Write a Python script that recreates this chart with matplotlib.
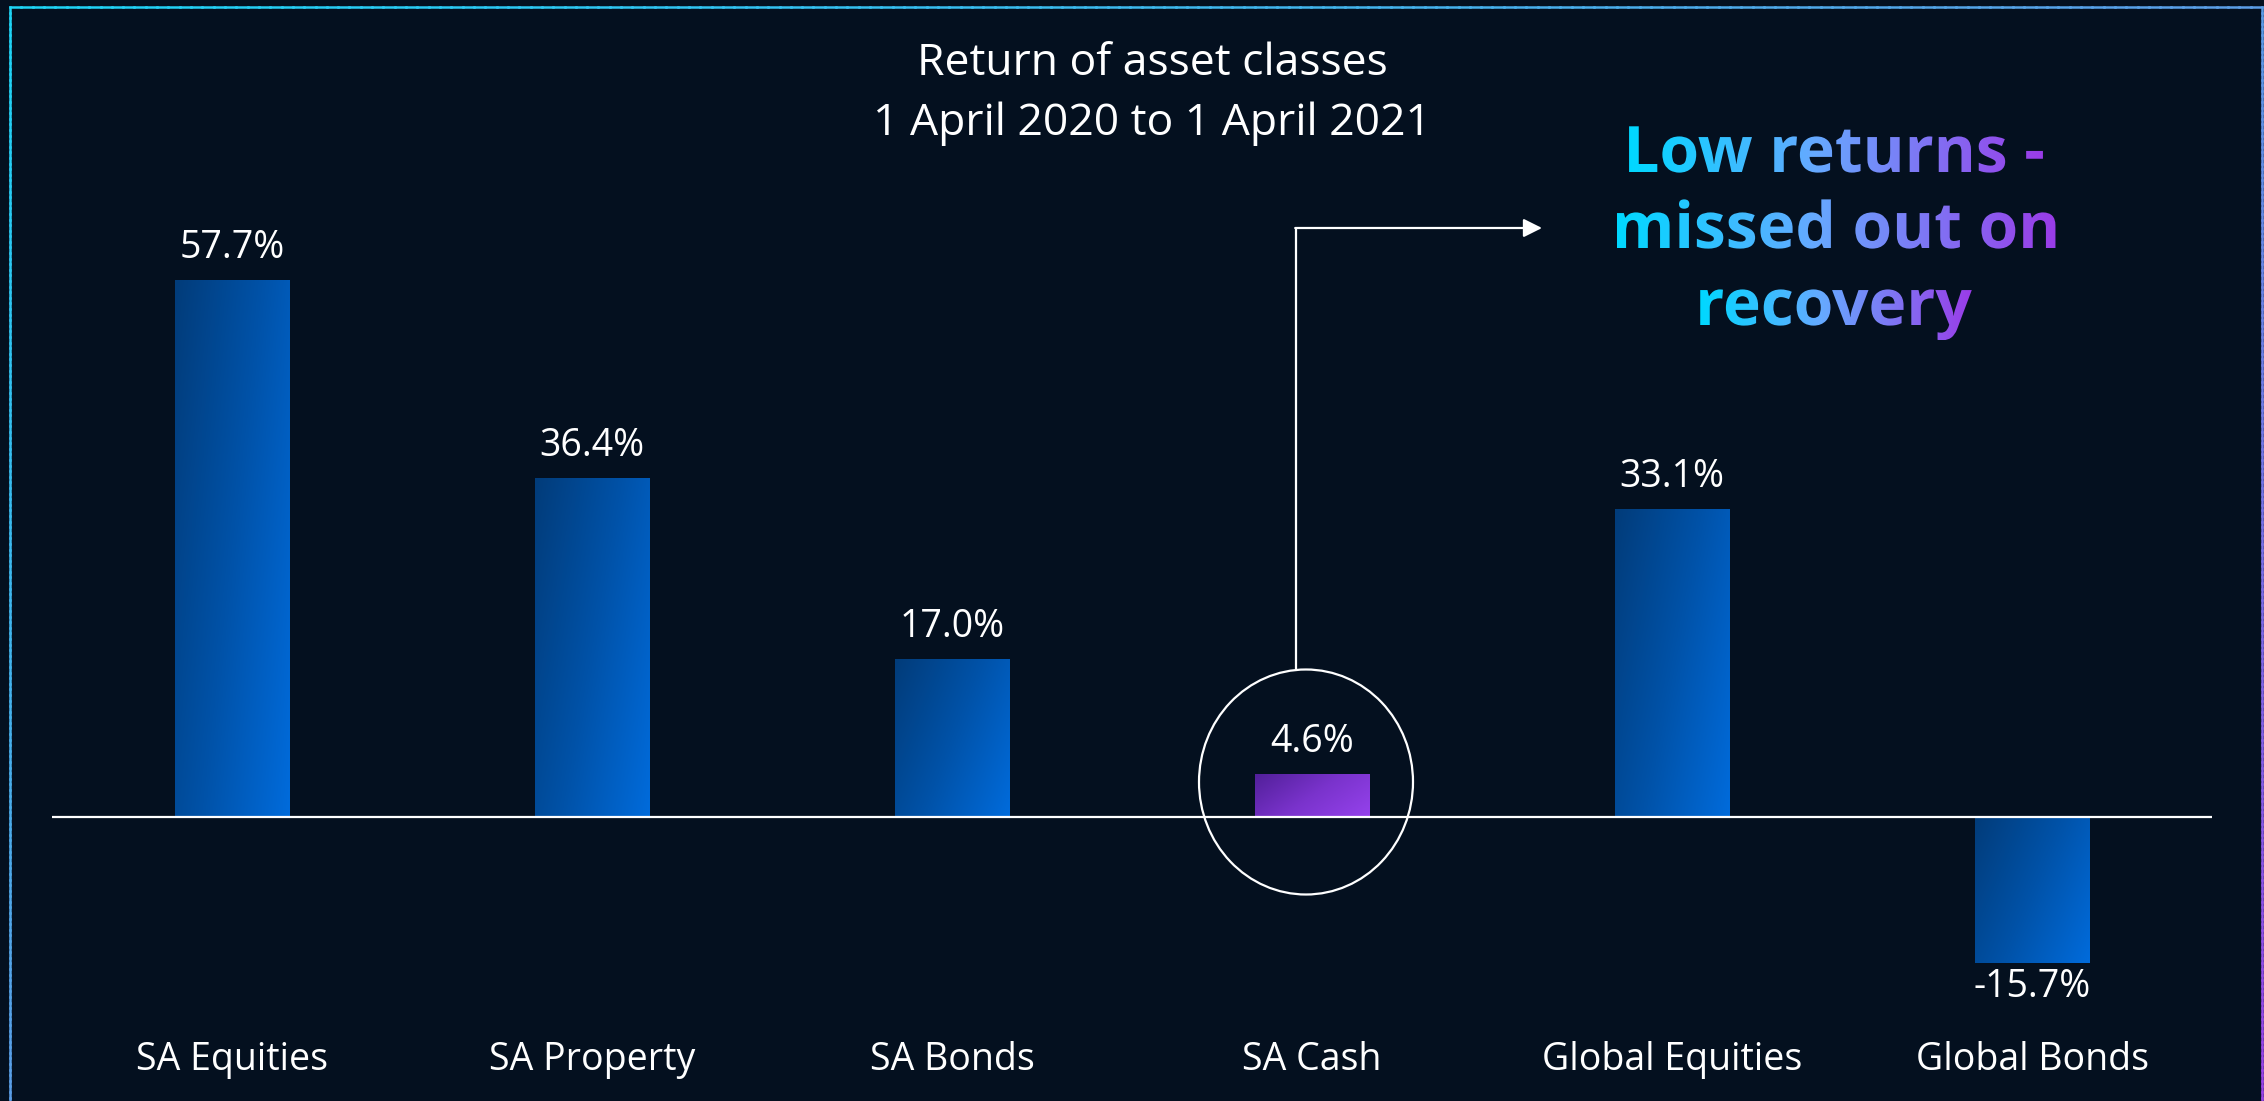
import numpy as np
import matplotlib
matplotlib.use("Agg")
from matplotlib import pyplot as plt
from matplotlib import transforms
from matplotlib.collections import LineCollection
from matplotlib.colors import LinearSegmentedColormap
from matplotlib.font_manager import FontProperties
from matplotlib.patches import Ellipse, PathPatch
from matplotlib.textpath import TextPath

plt.rcParams["font.family"] = ["Open Sans", "DejaVu Sans"]

# data
categories = ["SA Equities", "SA Property", "SA Bonds", "SA Cash", "Global Equities", "Global Bonds"]
returns = [57.7, 36.4, 17.0, 4.6, 33.1, -15.7]
highlight = "SA Cash"
title_lines = ["Return of asset classes", "1 April 2020 to 1 April 2021"]
callout_lines = ["Low returns -", "missed out on", "recovery"]

W, H = 2264, 1101
BG = "#04101f"
PX_PER_PCT = 9.31
ZERO_PX = 817

blue_cmap = LinearSegmentedColormap.from_list("blue", ["#023c7a", "#0052a8", "#006bdb"])
purple_cmap = LinearSegmentedColormap.from_list("purple", ["#52209a", "#7a33cc", "#9542ec"])
text_cmap = LinearSegmentedColormap.from_list("txt", [(0, "#00d8ff"), (0.45, "#66a9ff"), (1, "#9a3ce8")])
border_cmap = LinearSegmentedColormap.from_list("border", ["#1ed4f5", "#5b9de6", "#9a44e6"])

fig = plt.figure(figsize=(W / 100, H / 100), dpi=100, facecolor=BG)

# pixel overlay for decorations
ov = fig.add_axes([0, 0, 1, 1], zorder=3)
ov.set_axis_off()
ov.patch.set_visible(False)

# main bar axes
ax_top, ax_bot = 150, 1000
ax = fig.add_axes([52 / W, (H - ax_bot) / H, 2160 / W, (ax_bot - ax_top) / H], zorder=2)
ax.set_axis_off()
ax.patch.set_visible(False)
ylim = (-(ax_bot - ZERO_PX) / PX_PER_PCT, (ZERO_PX - ax_top) / PX_PER_PCT)

x = np.arange(len(categories))
bars = ax.bar(x, returns, width=0.317, color="none", edgecolor="none")

u = np.linspace(0, 1, 60)[None, :]
v = np.linspace(0, 1, 120)[:, None]
grad = 0.65 * u + 0.35 * v
for bar, cat in zip(bars, categories):
    x0, y0 = bar.get_x(), bar.get_y()
    x1, y1 = x0 + bar.get_width(), y0 + bar.get_height()
    cmap = purple_cmap if cat == highlight else blue_cmap
    im = ax.imshow(grad, cmap=cmap, extent=[x0, x1, min(y0, y1), max(y0, y1)],
                   origin="upper", aspect="auto", interpolation="bilinear", zorder=2)
    im.set_clip_path(bar)

ax.axhline(0, color="white", lw=1.6, zorder=3)

for xi, val in zip(x, returns):
    off = 15.8 if val >= 0 else -24.5
    ax.annotate(f"{val:.1f}%", (xi, val), xytext=(0, off), textcoords="offset points",
                ha="center", va="baseline", color="white", fontsize=27)

lab_tr = transforms.blended_transform_factory(ax.transData, ov.transData)
for xi, cat in zip(x, categories):
    ax.text(xi, 1070, cat, transform=lab_tr, ha="center", va="baseline",
            color="white", fontsize=27)

ax.set_xlim(-0.5, 5.5)
ax.set_ylim(*ylim)

# title
for yb, line in zip([75, 135], title_lines):
    ov.text(1152, yb, line, ha="center", va="baseline", color="white", fontsize=32)

# highlight circle and arrow
ov.add_patch(Ellipse((1306, 782), 214, 225, fill=False, edgecolor="white", lw=1.6))
ov.plot([1296, 1296], [670, 228], color="white", lw=1.6, solid_capstyle="butt")
ov.annotate("", xy=(1542, 228), xytext=(1295.2, 228),
            arrowprops=dict(arrowstyle="-|>", color="white", lw=1.6,
                            mutation_scale=28, shrinkA=0, shrinkB=0))

# gradient callout text
fp = FontProperties(family="Open Sans", weight="bold")
for yb, line in zip([172, 248, 325], callout_lines):
    tp = TextPath((0, 0), line, size=64, prop=fp)
    ext = tp.get_extents()
    cx = 1836
    tr = transforms.Affine2D().scale(1, -1).translate(cx - (ext.x0 + ext.x1) / 2, yb)
    path = tr.transform_path(tp)
    pe = path.get_extents()
    patch = PathPatch(path, facecolor="none", edgecolor="none", transform=ov.transData)
    ov.add_patch(patch)
    tgrad = np.linspace(0, 1, 256)[None, :]
    im = ov.imshow(tgrad, cmap=text_cmap, extent=[pe.x0, pe.x1, pe.y1, pe.y0],
                   origin="upper", aspect="auto", interpolation="bilinear")
    im.set_clip_path(patch)

# gradient frame
corners = np.array([[10, 1120], [10, 7], [2262, 7], [2262, 1120]], dtype=float)
pts = []
for a, b in zip(corners[:-1], corners[1:]):
    n = 200
    pts.append(np.linspace(a, b, n))
pts = np.vstack(pts)
segs = np.stack([pts[:-1], pts[1:]], axis=1)
mid = segs.mean(axis=1)
t = 0.5 * (mid[:, 0] - 10) / 2252 + 0.5 * (mid[:, 1] - 7) / 1094
lc = LineCollection(segs, colors=border_cmap(t), linewidths=1.8, capstyle="projecting")
ov.add_collection(lc)

ov.set_xlim(0, W)
ov.set_ylim(H, 0)

fig.savefig("out.png", dpi=100, facecolor=BG)
